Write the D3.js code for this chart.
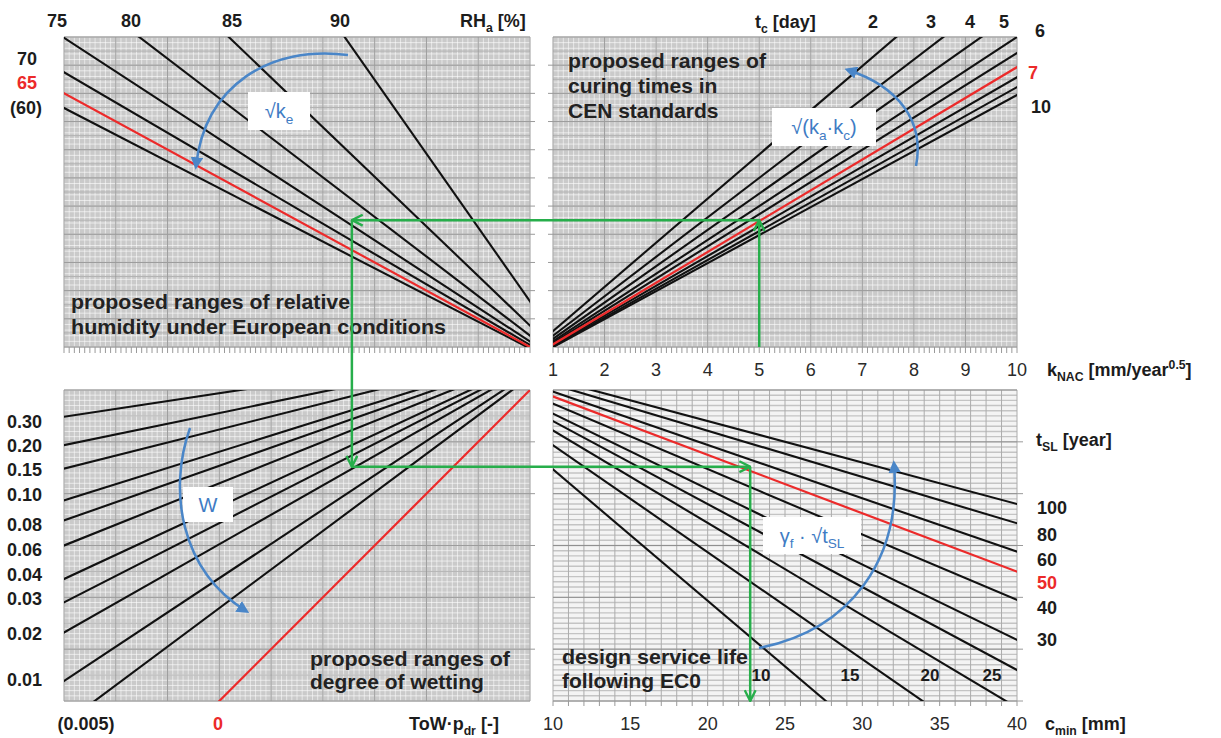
<!DOCTYPE html>
<html>
<head>
<meta charset="utf-8">
<script src="https://cdn.jsdelivr.net/npm/d3@7"></script>
<style>
  body { margin: 0; background: #fff; }
  text { font-family: "Liberation Sans", Arial, sans-serif; }
</style>
</head>
<body>
<script>
// values
const kTicks = [1, 2, 3, 4, 5, 6, 7, 8, 9, 10];
const cTicks = [10, 15, 20, 25, 30, 35, 40];

// top right: t_c [day], slope u/k of each line
const curingDays = [2, 3, 4, 5, 6, 7, 8, 9, 10];
const curingSlope = [1.567, 1.400, 1.289, 1.200, 1.143, 1.093, 1.057, 1.022, 0.994];

// top left: RH_a [%], slope u/v of each line
const rhValues = [60, 65, 70, 75, 80, 85, 90];
const rhSlope = [0.948, 1.0, 1.075, 1.197, 1.404, 1.76, 2.62];

// bottom left: ToW*p_dr, w reached at v = 10 (left edge)
const towValues = [0.30, 0.20, 0.15, 0.10, 0.08, 0.06, 0.04, 0.03, 0.02, 0.01, 0.005, 0];
const towAtLeft = [1.517, 2.064, 2.516, 3.13, 3.517, 4.0, 4.646, 5.097, 5.678, 6.614, 7.44, 10.0];
const towLabels = ["0.30", "0.20", "0.15", "0.10", "0.08", "0.06", "0.04", "0.03", "0.02", "0.01"];

// bottom right: t_SL [year], w reached at c = 40 mm
const tslValues = [100, 80, 60, 50, 40, 30, 25, 20, 15, 10];
const tslAt40 = [3.199, 3.571, 4.119, 4.505, 5.051, 5.822, 6.401, 7.128, 8.26, 10.13];

// worked example (green path)
const exK = 5, exU = 5.5, exV = 4.44, exW = 2.48, exC = 22.75;

const ink = '#1c1c1c', red = '#ec2a2a', blue = '#4a86c8', green = '#27ae4b';

const svg = d3.select('body').append('svg')
  .attr('width', 1221).attr('height', 738);
const defs = svg.append('defs');

const kX = d3.scaleLinear().domain([1, 10]).range([553, 1017]);
const vX = d3.scaleLinear().domain([1, 10]).range([530, 64]);
const cX = d3.scaleLinear().domain([10, 40]).range([553, 1017]);
const uY = d3.scaleLinear().domain([1, 12]).range([347, 37]);
const wY = d3.scaleLinear().domain([1, 7]).range([390, 701]);

function steps(d, s) {
  const lo = Math.min(d[0], d[1]), hi = Math.max(d[0], d[1]);
  const n = Math.round((hi - lo) / s);
  return d3.range(n + 1).map(i => lo + i * s);
}

function panel(id, xs, ys, spec) {
  const g = svg.append('g');
  const xr = xs.range(), yr = ys.range();
  const L = Math.min(...xr), R = Math.max(...xr), T = Math.min(...yr), B = Math.max(...yr);
  g.append('rect').attr('x', L).attr('y', T).attr('width', R - L).attr('height', B - T)
    .attr('fill', spec.bg);
  spec.layers.forEach(ly => {
    const vals = steps(ly.dir === 'x' ? xs.domain() : ys.domain(), ly.step);
    g.selectAll(null).data(vals).enter().append('line')
      .attr('x1', d => ly.dir === 'x' ? xs(d) : L)
      .attr('x2', d => ly.dir === 'x' ? xs(d) : R)
      .attr('y1', d => ly.dir === 'x' ? T : ys(d))
      .attr('y2', d => ly.dir === 'x' ? B : ys(d))
      .attr('stroke', ly.color).attr('stroke-width', ly.w || 1);
  });
  defs.append('clipPath').attr('id', id).append('rect')
    .attr('x', L).attr('y', T).attr('width', R - L).attr('height', B - T);
  return { L, R, T, B };
}

const grayGrid = (yMinor, yHalf) => ({
  bg: '#cacaca',
  layers: [
    { dir: 'x', step: 0.1, color: 'rgba(255,255,255,0.55)' },
    { dir: 'y', step: yMinor, color: 'rgba(255,255,255,0.6)' },
    { dir: 'y', step: yHalf, color: '#b2b2b2' },
    { dir: 'x', step: 1, color: '#9c9c9c' },
    { dir: 'y', step: 1, color: '#9c9c9c' }
  ]
});

const pTL = panel('cTL', vX, uY, grayGrid(0.2, 0.5));
const pTR = panel('cTR', kX, uY, grayGrid(0.2, 0.5));
const pBL = panel('cBL', vX, wY, grayGrid(0.1, 0.5));
const pBR = panel('cBR', cX, wY, {
  bg: '#f4f4f4',
  layers: [
    { dir: 'y', step: 0.1, color: '#c4c4c4', w: 1.4 },
    { dir: 'x', step: 1, color: '#acacac' },
    { dir: 'y', step: 1, color: '#909090' }
  ]
});

// small ticks round the panels
function ticks(vals, f) {
  svg.append('g').selectAll(null).data(vals).enter().append('line')
    .each(function (d) { const c = f(d); d3.select(this).attr('x1', c[0]).attr('y1', c[1]).attr('x2', c[2]).attr('y2', c[3]); })
    .attr('stroke', '#9a9a9a').attr('stroke-width', 1);
}
ticks(steps([1, 10], 0.1), d => [vX(d), 347, vX(d), 353]);
ticks(steps([1, 10], 0.1), d => [kX(d), 347, kX(d), 353]);
ticks(steps([2, 11], 1), d => [530, uY(d), 535, uY(d)]);
ticks(steps([2, 11], 1), d => [548, uY(d), 553, uY(d)]);
ticks(steps([2, 6], 1), d => [530, wY(d), 535, wY(d)]);
ticks(steps([2, 7], 1), d => [1017, wY(d), 1023, wY(d)]);
ticks(steps([10, 40], 1), d => [cX(d), 701, cX(d), 706]);

// fan lines through each panel's origin
function fan(clip, pts, isRed) {
  const g = svg.append('g').attr('clip-path', `url(#${clip})`);
  const order = pts.map((p, i) => i).sort((a, b) => isRed[a] - isRed[b]);
  order.forEach(i => {
    const p = pts[i];
    g.append('line').attr('x1', p[0]).attr('y1', p[1]).attr('x2', p[2]).attr('y2', p[3])
      .attr('stroke', isRed[i] ? red : '#111').attr('stroke-width', isRed[i] ? 2.2 : 2.1);
  });
}
fan('cTR', curingSlope.map(m => [kX(0), uY(0), kX(13), uY(13 * m)]), curingDays.map(d => d === 7));
fan('cTL', rhSlope.map(m => [vX(0), uY(0), vX(13), uY(13 * m)]), rhValues.map(d => d === 65));
fan('cBL', towAtLeft.map(a => [vX(0), wY(0), vX(13), wY(1.3 * a)]), towValues.map(d => d === 0));
fan('cBR', tslAt40.map(a => [cX(0), wY(0), cX(41), wY(a * 41 / 40)]), tslValues.map(d => d === 50));

// text helper with sub/superscripts
function rich(x, y, parts, o) {
  const size = o.size || 18;
  const t = svg.append('text').attr('x', x).attr('y', y)
    .attr('font-size', size).attr('font-weight', o.weight || 'bold')
    .attr('fill', o.fill || ink).attr('text-anchor', o.anchor || 'start');
  let shift = 0;
  parts.forEach(p => {
    const ts = t.append('tspan');
    if (typeof p === 'string') {
      ts.attr('dy', -shift).text(p); shift = 0;
    } else {
      const s = p.sub ? size * 0.28 : -size * 0.4;
      ts.attr('dy', s - shift).attr('font-size', size * 0.68).text(p.t); shift = s;
    }
  });
  if (o.len) t.attr('textLength', o.len).attr('lengthAdjust', 'spacingAndGlyphs');
  return t;
}

// region captions
[['proposed ranges of relative', 71, 309, 279], ['humidity under European conditions', 71, 334, 375],
 ['proposed ranges of', 568, 68, 198], ['curing times in', 568, 93, 0], ['CEN standards', 568, 118, 0],
 ['proposed ranges of', 310, 666, 200], ['degree of wetting', 310, 689, 0],
 ['design service life', 562, 664, 186], ['following EC0', 562, 688, 0]]
  .forEach(d => rich(d[1], d[2], [d[0]], { size: 21, fill: '#222', len: d[3] || null }));

// top left labels
[[75, 57], [80, 131], [85, 232], [90, 340]].forEach(d => rich(d[1], 27, [String(d[0])], { anchor: 'middle' }));
rich(460, 27, ['RH', { t: 'a', sub: true }, ' [%]'], {});
rich(17, 65, ['70'], {});
rich(17, 89, ['65'], { fill: red });
rich(10, 114, ['(60)'], {});

// top right labels
rich(755, 28, ['t', { t: 'c', sub: true }, ' [day]'], {});
[[2, 873], [3, 931], [4, 970], [5, 1004]].forEach(d => rich(d[1], 28, [String(d[0])], { anchor: 'middle' }));
rich(1040, 37, ['6'], { anchor: 'middle' });
rich(1033, 79, ['7'], { anchor: 'middle', fill: red });
rich(1041, 113, ['10'], { anchor: 'middle' });

// k axis
kTicks.forEach(k => rich(kX(k), 376, [String(k)], { anchor: 'middle', weight: 'normal', fill: '#2a2a2a' }));
rich(1047, 376, ['k', { t: 'NAC', sub: true }, ' [mm/year', { t: '0.5' }, ']'], {});

// bottom left labels
const towY = [428, 452, 476, 501, 531, 556, 581, 605, 640, 686];
towLabels.forEach((s, i) => rich(7, towY[i], [s], { size: 18 }));
rich(86, 730, ['(0.005)'], { anchor: 'middle' });
rich(218, 730, ['0'], { anchor: 'middle', fill: red });
rich(409, 730, ['ToW·p', { t: 'dr', sub: true }, ' [-]'], {});

// bottom right labels
cTicks.forEach(c => rich(cX(c), 730, [String(c)], { anchor: 'middle', weight: 'normal', fill: '#2a2a2a' }));
rich(1045, 730, ['c', { t: 'min', sub: true }, ' [mm]'], {});
rich(1036, 446, ['t', { t: 'SL', sub: true }, ' [year]'], {});
const tslLabY = [514, 541, 566, 589, 614, 646];
tslValues.slice(0, 6).forEach((v, i) => rich(1037, tslLabY[i], [String(v)], { size: 18, fill: v === 50 ? red : ink }));
[[10, 761], [15, 850], [20, 930], [25, 992]].forEach(d => rich(d[1], 681, [String(d[0])], { size: 17, anchor: 'middle' }));

// call-out boxes
function box(x, y, w, h, parts) {
  svg.append('rect').attr('x', x).attr('y', y).attr('width', w).attr('height', h).attr('fill', '#fff');
  rich(x + w / 2, y + h / 2 + 7, parts, { size: 20, fill: '#3f7cc4', weight: 'normal', anchor: 'middle' });
}
box(248, 92, 62, 38, ['√k', { t: 'e', sub: true }]);
box(772, 108, 104, 38, ['√(k', { t: 'a', sub: true }, '·k', { t: 'c', sub: true }, ')']);
box(183, 487, 50, 35, ['W']);
box(763, 517, 98, 37, ['γ', { t: 'f', sub: true }, ' · √t', { t: 'SL', sub: true }]);

// blue arcs
defs.append('marker').attr('id', 'bh').attr('viewBox', '0 0 10 10').attr('refX', 7).attr('refY', 5)
  .attr('markerWidth', 5).attr('markerHeight', 5).attr('orient', 'auto')
  .append('path').attr('d', 'M0,0L10,5L0,10z').attr('fill', blue);
['M348,55 C270,45 205,85 196,166',
 'M916,166 C925,120 897,86 848,70',
 'M190,428 C168,490 180,570 246,611',
 'M759,648 C850,630 902,560 894,464']
  .forEach(d => svg.append('path').attr('d', d).attr('fill', 'none').attr('stroke', blue)
    .attr('stroke-width', 2.5).attr('marker-end', 'url(#bh)'));

// green worked example
defs.append('marker').attr('id', 'gh').attr('viewBox', '0 0 12 12').attr('refX', 11).attr('refY', 6)
  .attr('markerUnits', 'userSpaceOnUse').attr('markerWidth', 13).attr('markerHeight', 13).attr('orient', 'auto')
  .append('path').attr('d', 'M1,1L11,6L1,11').attr('fill', 'none').attr('stroke', green).attr('stroke-width', 2.2);
const gp = [
  [kX(exK), uY(1), kX(exK), uY(exU)],
  [kX(exK), uY(exU), vX(exV), uY(exU)],
  [vX(exV), uY(exU), vX(exV), wY(exW)],
  [vX(exV), wY(exW), cX(exC), wY(exW)],
  [cX(exC), wY(exW), cX(exC), wY(7)]
];
svg.append('g').selectAll(null).data(gp).enter().append('line')
  .attr('x1', d => d[0]).attr('y1', d => d[1]).attr('x2', d => d[2]).attr('y2', d => d[3])
  .attr('stroke', green).attr('stroke-width', 2.5).attr('marker-end', 'url(#gh)');
</script>
</body>
</html>
